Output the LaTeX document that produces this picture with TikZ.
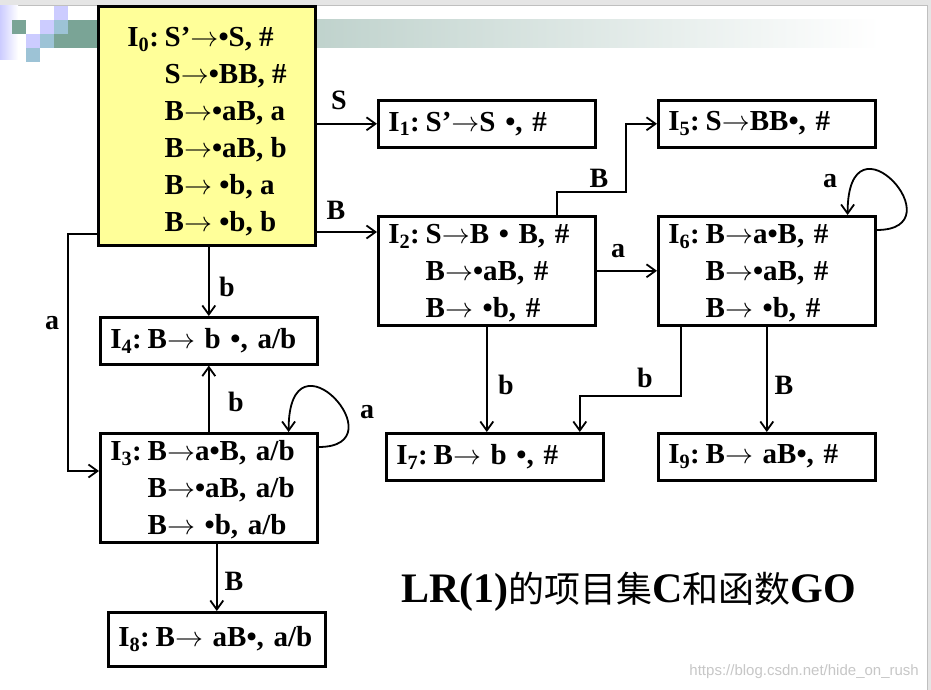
\documentclass[tikz,border=0pt]{standalone}
\usepackage{graphicx}
\usepackage{fontspec}
\setmainfont{Liberation Serif}
\newfontfamily\cjk{Noto Sans CJK SC}
\newfontfamily\wmfont{Liberation Sans}
\usetikzlibrary{arrows.meta,calc}
\frenchspacing

\definecolor{boxyellow}{HTML}{FFFF99}
\definecolor{sqgreen}{HTML}{7AA496}
\definecolor{sqblue}{HTML}{9DC3D6}
\definecolor{sqlav}{HTML}{CCCCFF}
\definecolor{bargreen}{HTML}{A4BFB7}

\newcommand{\Iset}[1]{I\textsubscript{#1}:\hspace{0.2em}}
\newcommand{\goesto}{\resizebox{28pt}{!}{$\rightarrow$}}
\newcommand{\zh}[1]{{\cjk\mdseries\fontsize{36}{36}\selectfont #1}}

\begin{document}
\begin{tikzpicture}[x=1pt,y=-1pt]

    \tikzset{BX/.style={draw=black,line width=2.6pt,rectangle,anchor=north west,align=left,inner xsep=10pt,inner ysep=2pt,minimum width=217pt,minimum height=47pt,font=\fontsize{29}{37}\selectfont\bfseries}}
    \tikzset{SB/.style={BX,text width=197pt}}
    \tikzset{TR/.style={SB,minimum height=109pt}}
    \tikzset{AR/.style={draw=black,line width=1.8pt,-{Straight Barb[length=9pt,width=13pt]}}}
    \tikzset{LB/.style={inner sep=0pt,font=\fontsize{28}{28}\selectfont\bfseries}}

    \useasboundingbox (0,0) rectangle (931,690);
    \fill[white] (0,0) rectangle (931,690);
    \fill[black!10] (0,0) rectangle (931,5);
    \fill[black!10] (927,0) rectangle (931,690);
    \draw[black!25,line width=0.8pt] (0,5) -- (927,5) -- (927,690);

    \fill[left color=sqlav,right color=white] (0,6) rectangle (18,60);
    \fill[bargreen!70!white] (97,20) rectangle (314,48);
    \fill[left color=bargreen!70!white,right color=white] (314,20) rectangle (880,48);
    \fill[sqgreen] (68,20) rectangle (97,48);
    \fill[sqgreen] (54,34) rectangle (68,48);
    \fill[sqgreen] (12,20) rectangle (26,34);
    \fill[sqlav] (54,6) rectangle (68,20);
    \fill[sqlav] (40,20) rectangle (54,34);
    \fill[sqlav] (26,34) rectangle (40,48);
    \fill[sqblue] (54,20) rectangle (68,34);
    \fill[sqblue] (40,34) rectangle (54,48);
    \fill[sqblue] (26,48) rectangle (40,62);

    \node (I0) [BX,fill=boxyellow,line width=3pt,minimum height=239pt] at (97,5)
        {\rule{0pt}{32pt}\Iset{0}S’\goesto•S, \#\\
         \phantom{\Iset{0}}S\goesto•BB, \#\\
         \phantom{\Iset{0}}B\goesto•aB, a\\
         \phantom{\Iset{0}}B\goesto•aB, b\\
         \phantom{\Iset{0}}B\goesto{} •b, a\\
         \phantom{\Iset{0}}B\goesto{} •b, b};
    	\node (I1) [SB] at (377,99) {\Iset{1}S’\goesto S •, \#};
    	\node (I2) [TR] at (377,215)
    	    {\rule{0pt}{25pt}\Iset{2}S\goesto B • B, \#\\
    	     \phantom{\Iset{2}}B\goesto•aB, \#\\
    	     \phantom{\Iset{2}}B\goesto{} •b, \#};
    	\node (I5) [SB] at (657,99) {\Iset{5}S\goesto BB•, \#};
    	\node (I6) [TR] at (657,215)
    	    {\rule{0pt}{25pt}\Iset{6}B\goesto a•B, \#\\
    	     \phantom{\Iset{6}}B\goesto•aB, \#\\
    	     \phantom{\Iset{6}}B\goesto{} •b, \#};
    	\node (I4) [SB] at (99,316) {\Iset{4}B\goesto{} b •, a/b};
    	\node (I3) [TR] at (99,432)
    	    {\rule{0pt}{25pt}\Iset{3}B\goesto a•B, a/b\\
    	     \phantom{\Iset{3}}B\goesto•aB, a/b\\
    	     \phantom{\Iset{3}}B\goesto{} •b, a/b};
    	\node (I8) [SB,minimum height=54pt] at (107,611) {\Iset{8}B\goesto{} aB•, a/b};
    	\node (I7) [SB] at (385,432) {\Iset{7}B\goesto{} b •, \#};
    	\node (I9) [SB] at (657,432) {\Iset{9}B\goesto{} aB•, \#};

    \coordinate (e02) at ([yshift=-17pt]I2.north west);
    \coordinate (e03) at ([yshift=-39pt]I3.north west);

    \path[AR] (I0.east |- I1.west) -- (I1.west);
    \path[AR] (I0.east |- e02) -- (e02);
    \path[AR] (I0.south -| I4.north) -- (I4.north);
    \path[AR] ([yshift=13pt]I0.south west) -- ++(-29,0) |- (e03);
    \path[AR] (I3.north) -- (I4.south);
    \path[AR] ([yshift=-15pt]I3.north east) .. controls +(82,0) and +(0,-110) .. ([xshift=-30pt]I3.north east);
    \path[AR] (I3.south -| I8.north) -- (I8.north);
    \path[AR] ([xshift=70pt]I2.north) -- ++(0,-23) -| ([xshift=-31pt]I5.west) -- (I5.west);
    \path[AR] (I2.east) -- (I6.west);
    \path[AR] ([yshift=-15pt]I6.north east) .. controls +(82,0) and +(0,-110) .. ([xshift=-29pt]I6.north east);
    \path[AR] (I2.south) -- (I2.south |- I7.north);
    \path[AR] ([xshift=-86pt]I6.south) -- ++(0,69) -| ([xshift=85pt]I7.north);
    \path[AR] (I6.south) -- (I9.north);

    \node (l01) [LB] at (339,100) {S};
    \node (l02) [LB] at (336,210) {B};
    \node (l04) [LB] at (227,287) {b};
    \node (l03) [LB] at (52,323) {a};
    \node (l34) [LB] at (236,402) {b};
    \node (l33) [LB] at (367,412) {a};
    \node (l38) [LB] at (234,581) {B};
    \node (l25) [LB] at (599,178) {B};
    \node (l26) [LB] at (618,251) {a};
    \node (l66) [LB] at (830,181) {a};
    \node (l27) [LB] at (506,385) {b};
    \node (l67) [LB] at (645,378) {b};
    \node (l69) [LB] at (784,385) {B};

    \node (title) [anchor=base west,inner sep=0pt,font=\fontsize{42}{42}\selectfont\bfseries] at (401,602)
        {LR(1)\zh{的项目集}C\zh{和函数}GO};
    \node (wm) [anchor=east,inner sep=0pt,text=black!22,font=\wmfont\fontsize{15}{15}\selectfont] at (919,672)
        {https://blog.csdn.net/hide\_on\_rush};
\end{tikzpicture}
\end{document}
